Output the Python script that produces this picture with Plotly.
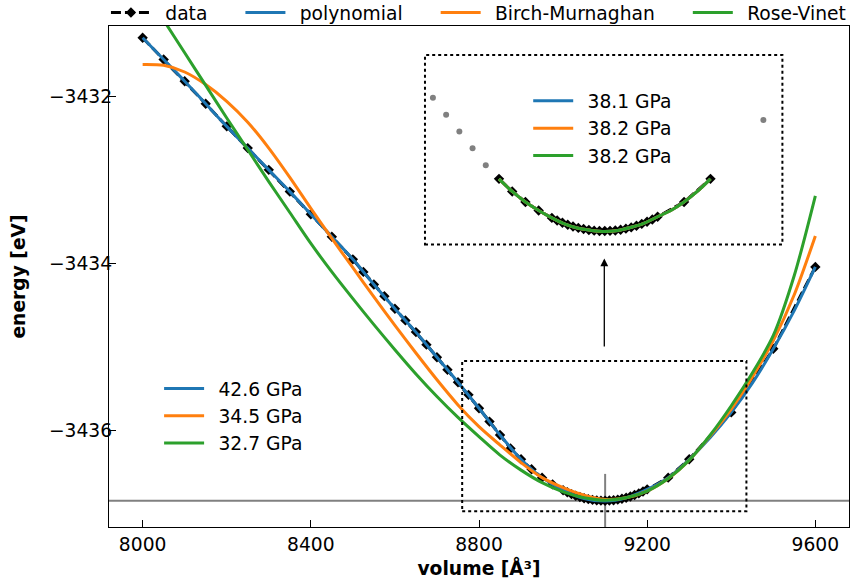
import plotly.graph_objects as go

# measured energies, volume in A^3 and energy in eV
data_v = [8000, 8050, 8100, 8150, 8200, 8250, 8300, 8350, 8400, 8450, 8500,
          8525, 8550, 8575, 8600, 8625, 8650, 8675, 8700, 8725, 8750,
          8775, 8800, 8825, 8850, 8875, 8900, 8925, 8950, 8975, 9000,
          9010, 9020, 9030, 9040, 9050, 9060, 9070, 9080, 9090, 9100,
          9110, 9120, 9130, 9140, 9150, 9160, 9170, 9180, 9190, 9200,
          9250, 9300, 9400, 9500, 9600]
data_e = [-3431.30, -3431.56, -3431.82, -3432.09, -3432.36, -3432.62, -3432.88,
          -3433.14, -3433.41, -3433.68, -3433.95,
          -3434.10, -3434.25, -3434.39, -3434.54, -3434.68, -3434.82, -3434.97,
          -3435.12, -3435.27, -3435.42,
          -3435.57, -3435.73, -3435.89, -3436.05, -3436.21, -3436.34, -3436.46,
          -3436.56, -3436.64, -3436.711,
          -3436.735, -3436.757, -3436.776, -3436.792, -3436.806, -3436.817,
          -3436.826, -3436.832, -3436.835, -3436.836,
          -3436.834, -3436.830, -3436.823, -3436.813, -3436.801, -3436.786,
          -3436.768, -3436.748, -3436.726, -3436.700,
          -3436.56, -3436.34, -3435.78, -3435.02, -3434.04]

# fits over the whole volume range
curve_v = [8000, 8050, 8100, 8150, 8200, 8250, 8300, 8350, 8400, 8450, 8500,
           8550, 8600, 8650, 8700, 8750, 8800, 8850, 8900, 8950, 9000,
           9050, 9100, 9150, 9200, 9250, 9300, 9350, 9400, 9450, 9500,
           9550, 9600]
poly_e = [-3431.30, -3431.56, -3431.82, -3432.09, -3432.36, -3432.62, -3432.88,
          -3433.14, -3433.41, -3433.68, -3433.95, -3434.25, -3434.54, -3434.82,
          -3435.12, -3435.42, -3435.73, -3436.05, -3436.34, -3436.56, -3436.71,
          -3436.81, -3436.84, -3436.80, -3436.70, -3436.56, -3436.34, -3436.08,
          -3435.78, -3435.43, -3435.02, -3434.56, -3434.04]
bm_e = [-3431.62, -3431.63, -3431.71, -3431.86, -3432.06, -3432.31, -3432.62,
        -3432.97, -3433.34, -3433.70, -3434.05, -3434.40, -3434.74, -3435.07,
        -3435.39, -3435.69, -3435.95, -3436.17, -3436.38, -3436.56, -3436.68,
        -3436.77, -3436.82, -3436.80, -3436.72, -3436.57, -3436.35, -3436.06,
        -3435.74, -3435.36, -3434.92, -3434.37, -3433.67]
vinet_e = [-3430.70, -3431.09, -3431.48, -3431.87, -3432.26, -3432.64, -3433.02,
           -3433.39, -3433.76, -3434.10, -3434.42, -3434.73, -3435.03, -3435.32,
           -3435.59, -3435.84, -3436.07, -3436.29, -3436.47, -3436.62, -3436.73,
           -3436.80, -3436.83, -3436.80, -3436.72, -3436.57, -3436.35, -3436.05,
           -3435.70, -3435.31, -3434.86, -3434.14, -3433.19]
full_labels = ["42.6 GPa", "34.5 GPa", "32.7 GPa"]

# fits restricted to the window around the minimum
fit_lo, fit_hi = 8900, 9300
window_v = [8900, 8925, 8950, 8975, 9000, 9025, 9050, 9075, 9100,
            9125, 9150, 9175, 9200, 9225, 9250, 9275, 9300]
window_poly_e = [-3436.34, -3436.46, -3436.56, -3436.64, -3436.71, -3436.77,
                 -3436.81, -3436.83, -3436.84, -3436.83, -3436.80, -3436.76,
                 -3436.70, -3436.64, -3436.56, -3436.46, -3436.34]
window_bm_e = [-3436.34, -3436.46, -3436.56, -3436.64, -3436.71, -3436.77,
               -3436.81, -3436.83, -3436.84, -3436.83, -3436.80, -3436.76,
               -3436.70, -3436.64, -3436.56, -3436.46, -3436.34]
window_vinet_e = [-3436.34, -3436.46, -3436.56, -3436.64, -3436.71, -3436.77,
                  -3436.81, -3436.83, -3436.84, -3436.83, -3436.80, -3436.76,
                  -3436.70, -3436.64, -3436.56, -3436.46, -3436.34]
window_labels = ["38.1 GPa", "38.2 GPa", "38.2 GPa"]

fit_names = ["polynomial", "Birch-Murnaghan", "Rose-Vinet"]
COLORS = ["#1f77b4", "#ff7f0e", "#2ca02c"]

inset_xlim = [8760, 9436]
inset_ylim = [-3436.963, -3435.164]

FONT = "DejaVu Sans"
FS = 18.7
LW = 3
LEAD = "\u2002"           # gap between legend line and label
TRAIL = "\u2003\u2002"    # gap between top-legend entries

i_min = data_e.index(min(data_e))
v_min, e_min = data_v[i_min], data_e[i_min]

fig = go.Figure()

# top legend: data + names of the models
fig.add_trace(go.Scatter(
    x=data_v, y=data_e, mode="lines+markers", name=LEAD + "data" + TRAIL,
    legend="legend",
    line=dict(color="black", width=LW, dash="10px,4px"),
    marker=dict(symbol="diamond", size=8, color="black"),
))
for k, (name, c) in enumerate(zip(fit_names, COLORS)):
    tail = TRAIL if k < len(fit_names) - 1 else ""
    fig.add_trace(go.Scatter(x=[None], y=[None], mode="lines", name=LEAD + name + tail,
                             legend="legend", line=dict(color=c, width=LW)))

for e, c, lab in zip([poly_e, bm_e, vinet_e], COLORS, full_labels):
    fig.add_trace(go.Scatter(
        x=curve_v, y=e, mode="lines", name=LEAD + lab, legend="legend2",
        line=dict(color=c, width=LW, shape="spline", smoothing=0.8),
    ))

# inset
out_v = [v for v in data_v if v < fit_lo or v > fit_hi]
out_e = [e for v, e in zip(data_v, data_e) if v < fit_lo or v > fit_hi]
in_v = [v for v in data_v if fit_lo <= v <= fit_hi]
in_e = [e for v, e in zip(data_v, data_e) if fit_lo <= v <= fit_hi]

fig.add_trace(go.Scatter(
    x=out_v, y=out_e, mode="markers", xaxis="x2", yaxis="y2", showlegend=False,
    marker=dict(color="gray", size=6),
))
fig.add_trace(go.Scatter(
    x=in_v, y=in_e, mode="lines+markers", xaxis="x2", yaxis="y2", showlegend=False,
    line=dict(color="black", width=LW, dash="10px,4px"),
    marker=dict(symbol="diamond", size=8, color="black"),
))
for e, c, lab in zip([window_poly_e, window_bm_e, window_vinet_e], COLORS, window_labels):
    fig.add_trace(go.Scatter(
        x=window_v, y=e, mode="lines", name=LEAD + lab, legend="legend3",
        xaxis="x2", yaxis="y2",
        line=dict(color=c, width=LW, shape="spline", smoothing=0.8),
    ))

# reference lines at the minimum
fig.add_shape(type="line", xref="x domain", x0=0, x1=1, yref="y", y0=e_min, y1=e_min,
              line=dict(color="gray", width=2), layer="below")
fig.add_shape(type="line", xref="x", x0=v_min, x1=v_min, yref="y domain", y0=0, y1=0.106,
              line=dict(color="gray", width=2), layer="below")
fig.add_shape(type="line", xref="x2 domain", x0=0, x1=1, yref="y2", y0=e_min, y1=e_min,
              line=dict(color="gray", width=2), layer="below")
fig.add_shape(type="line", xref="x2", x0=v_min, x1=v_min, yref="y2 domain", y0=0, y1=0.14,
              line=dict(color="gray", width=2), layer="below")

# zoom box and inset frame
fig.add_shape(type="rect", xref="x", yref="y",
              x0=inset_xlim[0], x1=inset_xlim[1], y0=inset_ylim[0], y1=inset_ylim[1],
              line=dict(color="black", width=2, dash="dot"))
fig.add_shape(type="rect", xref="x2 domain", yref="y2 domain", x0=0, x1=1, y0=0, y1=1,
              line=dict(color="black", width=2, dash="dot"))

x_mid = (inset_xlim[0] + inset_xlim[1]) / 2
fig.add_annotation(x=x_mid, y=-3433.94, ax=x_mid, ay=-3435.01, axref="x", ayref="y",
                   xref="x", yref="y", text="", showarrow=True,
                   arrowhead=2, arrowsize=1.2, arrowwidth=1.3, arrowcolor="black")

axis_common = dict(showline=True, linecolor="black", linewidth=1.3, mirror=True,
                   ticks="inside", ticklen=7, tickwidth=1.3, tickcolor="black",
                   showgrid=False, zeroline=False, automargin=False,
                   tickfont=dict(family=FONT, size=FS, color="black"))

legend_common = dict(bgcolor="rgba(0,0,0,0)", font=dict(family=FONT, size=FS),
                     itemwidth=40)

fig.update_layout(
    width=851, height=586,
    margin=dict(l=109, r=2, t=26, b=59, autoexpand=False),
    paper_bgcolor="white", plot_bgcolor="white",
    font=dict(family=FONT, size=FS, color="black"),
    xaxis=dict(range=[7920, 9680], tickvals=[8000, 8400, 8800, 9200, 9600],
               title=dict(text="<b>volume [Å³]</b>", standoff=8,
                          font=dict(family=FONT, size=FS)),
               **axis_common),
    yaxis=dict(range=[-3437.15, -3431.16], tickvals=[-3432, -3434, -3436],
               ticktext=["−3432", "−3434", "−3436"], ticklabelstandoff=-8,
               title=dict(text="<b>energy [eV]</b>", standoff=18,
                          font=dict(family=FONT, size=FS)),
               **axis_common),
    xaxis2=dict(domain=[0.427, 0.910], anchor="y2", range=inset_xlim,
                showticklabels=False, ticks="", showgrid=False, zeroline=False,
                showline=False),
    yaxis2=dict(domain=[0.564, 0.942], anchor="x2", range=inset_ylim,
                showticklabels=False, ticks="", showgrid=False, zeroline=False,
                showline=False),
    legend=dict(orientation="h", xref="container", x=0.1245, xanchor="left",
                yref="container", y=0.978, yanchor="middle", **legend_common),
    legend2=dict(x=0.0677, xanchor="left", y=0.222, yanchor="middle", **legend_common),
    legend3=dict(x=0.5665, xanchor="left", y=0.796, yanchor="middle", **legend_common),
)

# drop the default page margin so the figure sits at the window origin
fig.write_html("out.html", config={"displayModeBar": False},
               post_script="document.body.style.margin = '0';")
